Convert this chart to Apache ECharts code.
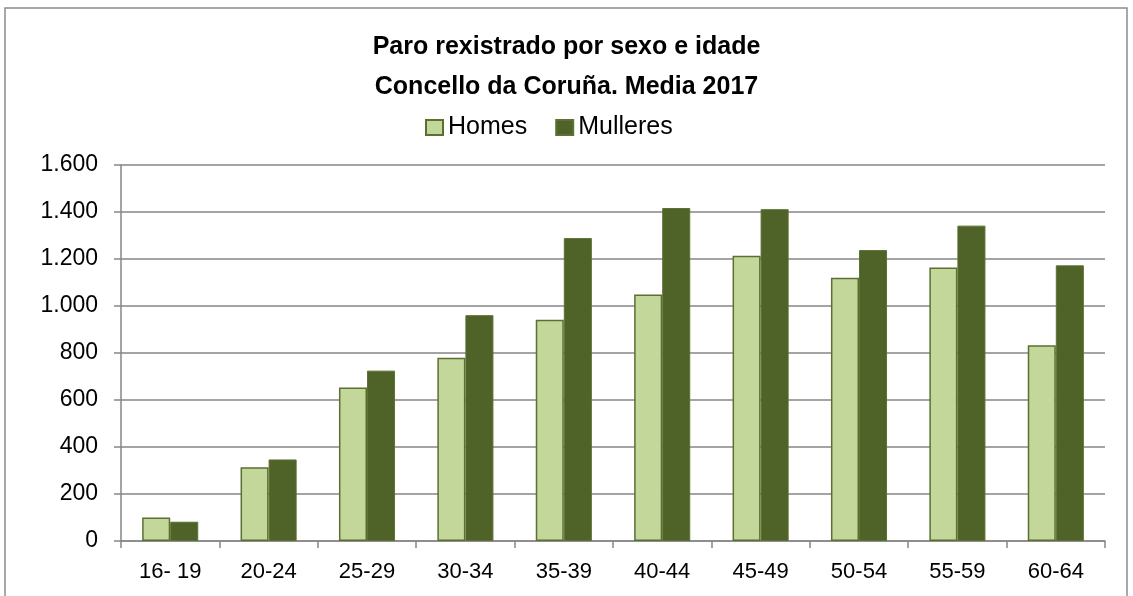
<!DOCTYPE html>
<html>
<head>
<meta charset="utf-8">
<script src="https://cdn.jsdelivr.net/npm/echarts@6/dist/echarts.min.js"></script>
<style>
  html, body { margin: 0; padding: 0; background: #fff; }
  #main { width: 1133px; height: 596px; }
</style>
</head>
<body>
<div id="main"></div>
<script>
// datos: paro rexistrado por sexo e idade (media 2017)
var categories = ['16- 19', '20-24', '25-29', '30-34', '35-39', '40-44', '45-49', '50-54', '55-59', '60-64'];
var homes = [100, 314, 653, 780, 941, 1049, 1214, 1120, 1164, 833];
var mulleres = [82, 347, 725, 961, 1289, 1417, 1412, 1238, 1342, 1173];
var seriesNames = ['Homes', 'Mulleres'];

var myChart = echarts.init(document.getElementById('main'));

var font = '"Liberation Sans", Arial, sans-serif';

option = {
    animation: false,
    graphic: [{
        type: 'rect',
        shape: { x: 5, y: 8, width: 1122, height: 600 },
        style: { fill: 'none', stroke: '#8c8c8c', lineWidth: 1.5 },
        silent: true
    }],
    title: {
        text: 'Paro rexistrado por sexo e idade\nConcello da Coruña. Media 2017',
        left: 'center',
        top: 22,
        textStyle: {
            fontFamily: font,
            fontWeight: 'bold',
            fontSize: 25,
            lineHeight: 40,
            color: '#000'
        }
    },
    legend: {
        data: seriesNames,
        top: 110,
        left: 420,
        icon: 'rect',
        itemWidth: 17,
        itemHeight: 15,
        itemGap: 28,
        textStyle: { fontFamily: font, fontSize: 25, color: '#000' }
    },
    grid: {
        left: 121,
        right: 28,
        top: 165,
        bottom: 55
    },
    xAxis: {
        type: 'category',
        data: categories,
        axisLine: { lineStyle: { color: '#868686', width: 1.5 } },
        axisTick: { show: true, length: 7, lineStyle: { color: '#868686', width: 1.5 } },
        axisLabel: { fontFamily: font, fontSize: 22, color: '#000', margin: 20 }
    },
    yAxis: {
        type: 'value',
        min: 0,
        max: 1600,
        interval: 200,
        axisLine: { show: true, lineStyle: { color: '#868686', width: 1.5 } },
        axisTick: { show: true, length: 7, lineStyle: { color: '#868686', width: 1.5 } },
        splitLine: { lineStyle: { color: '#868686', width: 1.5 } },
        axisLabel: {
            fontFamily: font,
            fontSize: 23,
            color: '#000',
            margin: 23,
            formatter: function (v) {
                return String(v).replace(/\B(?=(\d{3})+(?!\d))/g, '.');
            }
        }
    },
    series: [
        {
            name: seriesNames[0],
            type: 'bar',
            data: homes,
            barGap: '0%',
            barCategoryGap: '43%',
            itemStyle: { color: '#c4d79b', borderColor: '#5a7030', borderWidth: 1.5 }
        },
        {
            name: seriesNames[1],
            type: 'bar',
            data: mulleres,
            itemStyle: { color: '#4f6228', borderColor: '#5d7232', borderWidth: 1 }
        }
    ]
};

myChart.setOption(option);
</script>
</body>
</html>
